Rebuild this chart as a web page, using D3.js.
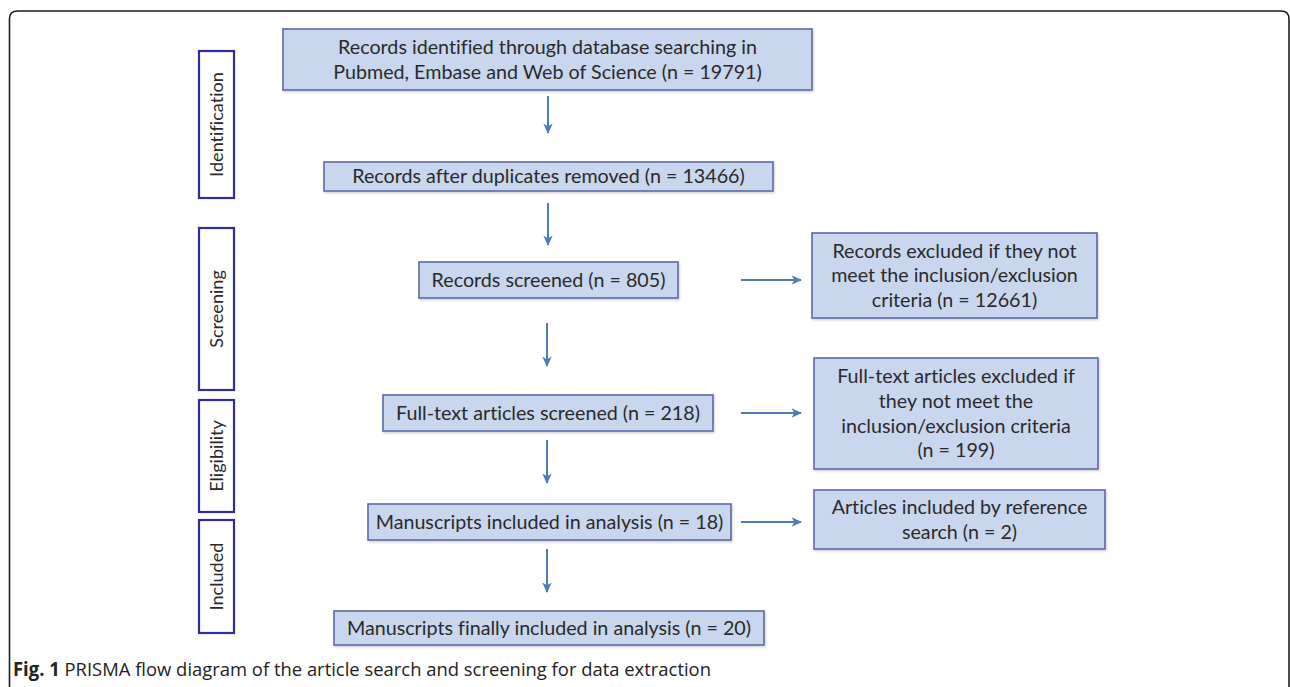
<!DOCTYPE html>
<html>
<head>
<meta charset="utf-8">
<script src="https://cdn.jsdelivr.net/npm/d3@7"></script>
<style>
  html, body { margin: 0; padding: 0; background: #ffffff; }
  svg { display: block; }
  text { font-variant-ligatures: none; font-feature-settings: "liga" 0; }
</style>
</head>
<body>
<svg id="chart" width="1290" height="687"></svg>
<script>
// ---------------- DATA ----------------
const stages = ["Identification", "Screening", "Eligibility", "Included"];

const mainLines = [
  ["Records identified through database searching in", "Pubmed, Embase and Web of Science (n = {n})"],
  ["Records after duplicates removed (n = {n})"],
  ["Records screened (n = {n})"],
  ["Full-text articles screened (n = {n})"],
  ["Manuscripts included in analysis (n = {n})"],
  ["Manuscripts finally included in analysis (n = {n})"]
];
const mainCounts = [19791, 13466, 805, 218, 18, 20];

const sideLines = [
  ["Records excluded if they not", "meet the inclusion/exclusion", "criteria (n = {n})"],
  ["Full-text articles excluded if", "they not meet the", "inclusion/exclusion criteria", "(n = {n})"],
  ["Articles included by reference", "search (n = {n})"]
];
const sideCounts = [12661, 199, 2];
const sideFrom = [2, 3, 4];   // which main box each side box branches from

const captionBold = "Fig. 1";
const captionText = " PRISMA flow diagram of the article search and screening for data extraction";

// ---------------- LAYOUT ----------------
const svg = d3.select("#chart");
const W = 1290, H = 687;

const colors = {
  boxFill: "#c8d6ee",
  boxStroke: "#5d6aa6",
  stageStroke: "#2c2ca3",
  arrow: "#4f7bb6",
  text: "#2a2a2a",
  frame: "#1e1e1e"
};

// main column boxes [x0, y0, x1, y1]
const mainGeom = [
  [283, 29, 812, 90],
  [324, 162, 773, 191],
  [419, 262, 678, 298],
  [383, 395, 713, 431],
  [368, 504, 731, 540],
  [334, 611, 764, 645]
];
const sideGeom = [
  [812, 233, 1097, 318],
  [814, 358, 1098, 469],
  [814, 490, 1105, 549]
];
const stageGeom = [
  [199, 51, 234, 198],
  [199, 228, 234, 390],
  [199, 400, 234, 512],
  [199, 520, 234, 633]
];
const colX = 548;
const sideArrowX = [741, 801];

const fontFamily = "Lato, 'Open Sans', 'DejaVu Sans', sans-serif";

// frame
svg.append("path")
  .attr("d", `M9.5,${H + 10} L9.5,19 Q9.5,11 17.5,11 L1281,11 Q1289,11 1289,19 L1289,${H + 10}`)
  .attr("fill", "none")
  .attr("stroke", colors.frame)
  .attr("stroke-width", 1.6);

// arrow marker
const defs = svg.append("defs");
defs.append("marker")
  .attr("id", "ah")
  .attr("viewBox", "0 0 10 10")
  .attr("refX", 9).attr("refY", 5)
  .attr("markerWidth", 5.2).attr("markerHeight", 5.2)
  .attr("orient", "auto")
  .append("path")
  .attr("d", "M0,0.5 L10,5 L0,9.5 L2.5,5 Z")
  .attr("fill", colors.arrow);

const shadow = defs.append("filter").attr("id", "sh").attr("x", "-5%").attr("y", "-10%").attr("width", "110%").attr("height", "130%");
shadow.append("feDropShadow").attr("dx", 1).attr("dy", 1.5).attr("stdDeviation", 1.2).attr("flood-color", "#000").attr("flood-opacity", 0.18);

// fit font size: reference line width in the original ~419px
const probe = svg.append("text").attr("font-family", fontFamily).attr("font-size", 20).text(mainLines[0][0]);
const probeW = probe.node().getComputedTextLength();
probe.remove();
const fs = 20 * 419 / probeW;
const lh = fs * 1.25;

function fill(line, n) { return line.replace("{n}", n); }

function drawBox(g, geom, lines, n) {
  const [x0, y0, x1, y1] = geom;
  g.append("rect")
    .attr("x", x0).attr("y", y0)
    .attr("width", x1 - x0).attr("height", y1 - y0)
    .attr("fill", colors.boxFill)
    .attr("stroke", colors.boxStroke)
    .attr("stroke-width", 1.6)
    .attr("filter", "url(#sh)");
  const cx = (x0 + x1) / 2, cy = (y0 + y1) / 2;
  const t = g.append("text")
    .attr("font-family", fontFamily)
    .attr("font-size", fs)
    .attr("fill", colors.text)
    .attr("text-anchor", "middle");
  lines.forEach((ln, i) => {
    t.append("tspan")
      .attr("x", cx)
      .attr("y", cy + (i - (lines.length - 1) / 2) * lh)
      .attr("dy", "0.35em")
      .text(fill(ln, n));
  });
}

// stage boxes
const stageG = svg.append("g");
stages.forEach((s, i) => {
  const [x0, y0, x1, y1] = stageGeom[i];
  stageG.append("rect")
    .attr("x", x0).attr("y", y0)
    .attr("width", x1 - x0).attr("height", y1 - y0)
    .attr("fill", "#fff")
    .attr("stroke", colors.stageStroke)
    .attr("stroke-width", 2.2);
  const cx = (x0 + x1) / 2, cy = (y0 + y1) / 2;
  stageG.append("text")
    .attr("transform", `translate(${cx},${cy}) rotate(-90)`)
    .attr("text-anchor", "middle")
    .attr("dy", "0.35em")
    .attr("font-family", fontFamily)
    .attr("font-size", fs * 0.92)
    .attr("fill", colors.text)
    .text(s);
});

// main boxes
const boxG = svg.append("g");
mainLines.forEach((lines, i) => drawBox(boxG, mainGeom[i], lines, mainCounts[i]));
sideLines.forEach((lines, i) => drawBox(boxG, sideGeom[i], lines, sideCounts[i]));

// vertical arrows between main boxes
const arrowG = svg.append("g")
  .attr("stroke", colors.arrow)
  .attr("stroke-width", 2)
  .attr("fill", "none");
const vGap = [[6, 43], [12, 54], [25, 68], [9, 52], [9, 52]];
for (let i = 0; i < mainGeom.length - 1; i++) {
  const yTop = mainGeom[i][3] + vGap[i][0];
  const yBot = mainGeom[i][3] + vGap[i][1];
  arrowG.append("line")
    .attr("x1", colX - (i >= 2 ? 1 : 0)).attr("x2", colX - (i >= 2 ? 1 : 0))
    .attr("y1", yTop).attr("y2", yBot)
    .attr("marker-end", "url(#ah)");
}
// horizontal arrows to side boxes
sideFrom.forEach((mi, i) => {
  const y = (mainGeom[mi][1] + mainGeom[mi][3]) / 2;
  arrowG.append("line")
    .attr("x1", sideArrowX[0]).attr("x2", sideArrowX[1])
    .attr("y1", y).attr("y2", y)
    .attr("marker-end", "url(#ah)");
});

// caption
const cap = svg.append("text")
  .attr("x", 13)
  .attr("y", 676)
  .attr("font-family", "'Liberation Sans Narrow', 'Open Sans', sans-serif")
  .attr("font-size", 19)
  .attr("fill", "#222");
cap.append("tspan").attr("font-weight", "bold").text(captionBold);
cap.append("tspan").text(captionText);
const capW = cap.node().getComputedTextLength();
if (Math.abs(capW - 698) > 4) {
  cap.attr("textLength", 698).attr("lengthAdjust", "spacingAndGlyphs");
}
</script>
</body>
</html>
